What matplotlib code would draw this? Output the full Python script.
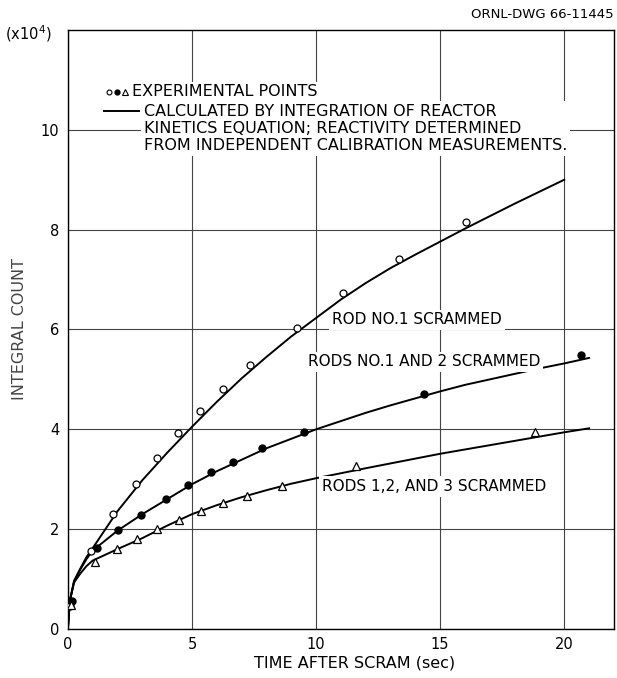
import numpy as np
import matplotlib.pyplot as plt

# experimental points (integral count in units of 1e4)
t_rod1 = [0.1, 0.93, 1.83, 2.73, 3.58, 4.45, 5.32, 6.24, 7.34, 9.23, 11.1, 13.35, 16.04]
c_rod1 = [0.46, 1.57, 2.31, 2.90, 3.42, 3.92, 4.37, 4.81, 5.29, 6.02, 6.74, 7.42, 8.15]

t_rod12 = [0.15, 1.16, 2.03, 2.93, 3.94, 4.85, 5.77, 6.67, 7.83, 9.52, 14.33, 20.69]
c_rod12 = [0.57, 1.62, 1.98, 2.29, 2.61, 2.88, 3.14, 3.34, 3.62, 3.94, 4.71, 5.48]

t_rod123 = [0.12, 1.11, 1.96, 2.8, 3.6, 4.48, 5.35, 6.24, 7.2, 8.62, 11.59, 18.83]
c_rod123 = [0.49, 1.34, 1.60, 1.80, 2.00, 2.19, 2.37, 2.53, 2.66, 2.87, 3.26, 3.94]

# calculated curves
tc1 = [0, 0.05, 0.1, 0.25, 0.5, 0.75, 1, 2, 3, 4, 5, 6, 7, 8, 9, 10, 11, 12, 13, 14, 15, 16, 17, 18, 19, 20]
cc1 = [0, 0.35, 0.61, 0.96, 1.21, 1.44, 1.62, 2.36, 2.98, 3.53, 4.05, 4.55, 5.02, 5.45, 5.86, 6.23,
       6.6, 6.93, 7.23, 7.5, 7.76, 8.02, 8.27, 8.52, 8.76, 9.0]

tc2 = [0, 0.05, 0.1, 0.25, 0.5, 0.75, 1, 2, 3, 4, 5, 6, 7, 8, 9, 10, 12, 13, 14, 15, 16, 17, 18, 19, 20, 21]
cc2 = [0, 0.35, 0.61, 0.96, 1.19, 1.40, 1.57, 1.97, 2.30, 2.60, 2.90, 3.16, 3.39, 3.62, 3.81, 4.0,
       4.33, 4.48, 4.62, 4.76, 4.89, 5.0, 5.11, 5.22, 5.32, 5.43]

tc3 = [0, 0.05, 0.1, 0.25, 0.5, 0.75, 1, 2, 3, 4, 5, 6, 7, 8, 9, 10, 12, 15, 20, 21]
cc3 = [0, 0.35, 0.61, 0.93, 1.11, 1.26, 1.37, 1.60, 1.82, 2.07, 2.30, 2.48, 2.64, 2.78, 2.91, 3.02,
       3.22, 3.51, 3.94, 4.02]

xticks = [0, 5, 10, 15, 20]
yticks = [0, 2, 4, 6, 8, 10]

plt.rcParams['font.family'] = 'DejaVu Sans'
fig = plt.figure(figsize=(6.17, 6.78), dpi=100)
ax = fig.add_axes([0.110, 0.0723, 0.885, 0.8835])

ax.set_xlim(0, 22)
ax.set_ylim(0, 12)
ax.set_xticks(xticks)
ax.set_yticks(yticks)
ax.tick_params(length=0, labelsize=10.5, pad=6)
ax.grid(True, color='#444444', lw=0.8)
ax.set_axisbelow(True)
for s in ax.spines.values():
    s.set_linewidth(1.0)

ax.plot(tc1, cc1, color='black', lw=1.4)
ax.plot(tc2, cc2, color='black', lw=1.4)
ax.plot(tc3, cc3, color='black', lw=1.4)

ax.plot(t_rod1, c_rod1, 'o', mfc='white', mec='black', ms=5, mew=0.9, zorder=3)
ax.plot(t_rod12, c_rod12, 'o', mfc='black', mec='black', ms=5, zorder=3)
ax.plot(t_rod123, c_rod123, '^', mfc='white', mec='black', ms=6, mew=0.9, zorder=3)

box = dict(facecolor='white', edgecolor='none', pad=2)
ax.text(10.65, 6.19, 'ROD NO.1 SCRAMMED', fontsize=11, va='center', bbox=box)
ax.text(9.68, 5.35, 'RODS NO.1 AND 2 SCRAMMED', fontsize=11, va='center', bbox=box)
ax.text(10.24, 2.85, 'RODS 1,2, AND 3 SCRAMMED', fontsize=11, va='center', bbox=box)

# legend block
ax.text(2.58, 10.76, 'EXPERIMENTAL POINTS', fontsize=11.5, va='center', bbox=box)
ax.plot([1.65], [10.76], 'o', mfc='white', mec='black', ms=3.5, mew=0.8)
ax.plot([1.98], [10.76], 'o', mfc='black', mec='black', ms=3.5)
ax.plot([2.32], [10.76], '^', mfc='white', mec='black', ms=4, mew=0.8)
ax.text(3.05, 10.02, 'CALCULATED BY INTEGRATION OF REACTOR\n'
        'KINETICS EQUATION; REACTIVITY DETERMINED\n'
        'FROM INDEPENDENT CALIBRATION MEASUREMENTS.',
        fontsize=11.5, va='center', linespacing=1.18, bbox=box)
ax.plot([1.45, 2.85], [10.38, 10.38], color='black', lw=1.4)

ax.set_xlabel('TIME AFTER SCRAM (sec)', fontsize=11.5, labelpad=5)
ax.xaxis.set_label_coords(0.525, -0.045)
ax.set_ylabel('INTEGRAL COUNT', fontsize=11.5, color='#444444', labelpad=10)
fig.text(0.008, 0.950, '(x10$^4$)', fontsize=10.5, va='center')
fig.text(0.994, 0.979, 'ORNL-DWG 66-11445', fontsize=9.5, ha='right', va='center')

fig.savefig('out.png', dpi=100)
